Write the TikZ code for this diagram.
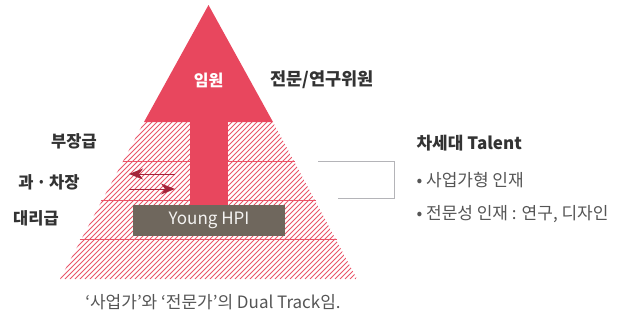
\documentclass[tikz,border=0pt]{standalone}
\usepackage{fontspec}
\setmainfont{Noto Sans CJK KR}
\usetikzlibrary{arrows.meta}
\definecolor{pyrred}{HTML}{E8475E}
\definecolor{hatchred}{HTML}{EA5468}
\definecolor{darkred}{HTML}{A3243A}
\definecolor{boxgray}{HTML}{6F675D}
\definecolor{textdark}{HTML}{333333}
\definecolor{textgray}{HTML}{555555}
\definecolor{bracketgray}{HTML}{B4B4B8}
\begin{document}
\begin{tikzpicture}[x=1pt,y=-1pt,
    level/.style={font=\bfseries\fontsize{16.5}{19}\selectfont, text=textdark},
    item/.style={anchor=west, font=\fontsize{17}{20}\selectfont, text=textgray},
    floor/.style={hatchred, line width=1pt},
    swap/.style={darkred, line width=1pt, -{Stealth[length=14pt,width=11pt,inset=4pt]}}]
  \useasboundingbox (0,0) rectangle (619,324);

  % hatched lower part of the pyramid
  \begin{scope}
    \clip (144,122) -- (273,122) -- (357,279) -- (60,279) -- cycle;
    \foreach \i in {-105,-100,...,360} {
      \draw[hatchred, line width=0.8pt] (\i,279) -- ++(160,-160);
    }
  \end{scope}

  % floors
  \draw[floor] (122.5,161) -- (294.5,161);
  \draw[floor] (101,200) -- (316,200);
  \draw[floor] (79.6,239) -- (337.4,239);

  % arrow: top and shaft
  \fill[pyrred] (208.5,5) -- (273,122) -- (144,122) -- cycle;
  \fill[pyrred] (190,121) rectangle (228,206);
  \node[fill=boxgray, minimum width=152pt, minimum height=31pt, inner sep=0pt,
        text=white!92!boxgray, font=\fontsize{17}{19}\selectfont] (hpi) at (209,220.5) {Young HPI};

  % swap arrows
  \coordinate (la) at (175,174);
  \coordinate (lb) at (129,174);
  \coordinate (ra) at (129,189);
  \coordinate (rb) at (175,189);
  \draw[swap] (la) -- (lb);
  \draw[swap] (ra) -- (rb);

  % labels
  \node[text=white, font=\bfseries\fontsize{16}{18}\selectfont] (top) at (208.5,80) {임원};
  \node[level, anchor=west, font=\bfseries\fontsize{17.5}{20}\selectfont] (expert) at (267,80) {전문/연구위원};
  \node[level] (bujang) at (74,141) {부장급};
  \node[level] (chajang) at (49,182) {과\,·\,차장};
  \node[level] (daeri) at (36,218) {대리급};

  % bracket
  \coordinate (b1) at (318,161);
  \coordinate (b2) at (394,161);
  \coordinate (b3) at (394,198);
  \coordinate (b4) at (338,198);
  \draw[bracketgray, line width=1pt] (b1) -- (b2) -- (b3) -- (b4);

  \node[level, anchor=west, font=\bfseries\fontsize{17}{20}\selectfont] (talent) at (413,143) {차세대 Talent};
  \node[item] (biz) at (413,180) {• 사업가형 인재};
  \node[item] (pro) at (413,214) {• 전문성 인재 : 연구, 디자인};

  \node[font=\fontsize{17}{20}\selectfont, text=textgray] (caption) at (213,302)
    {‘사업가’와 ‘전문가’의 Dual Track임.};
\end{tikzpicture}
\end{document}
